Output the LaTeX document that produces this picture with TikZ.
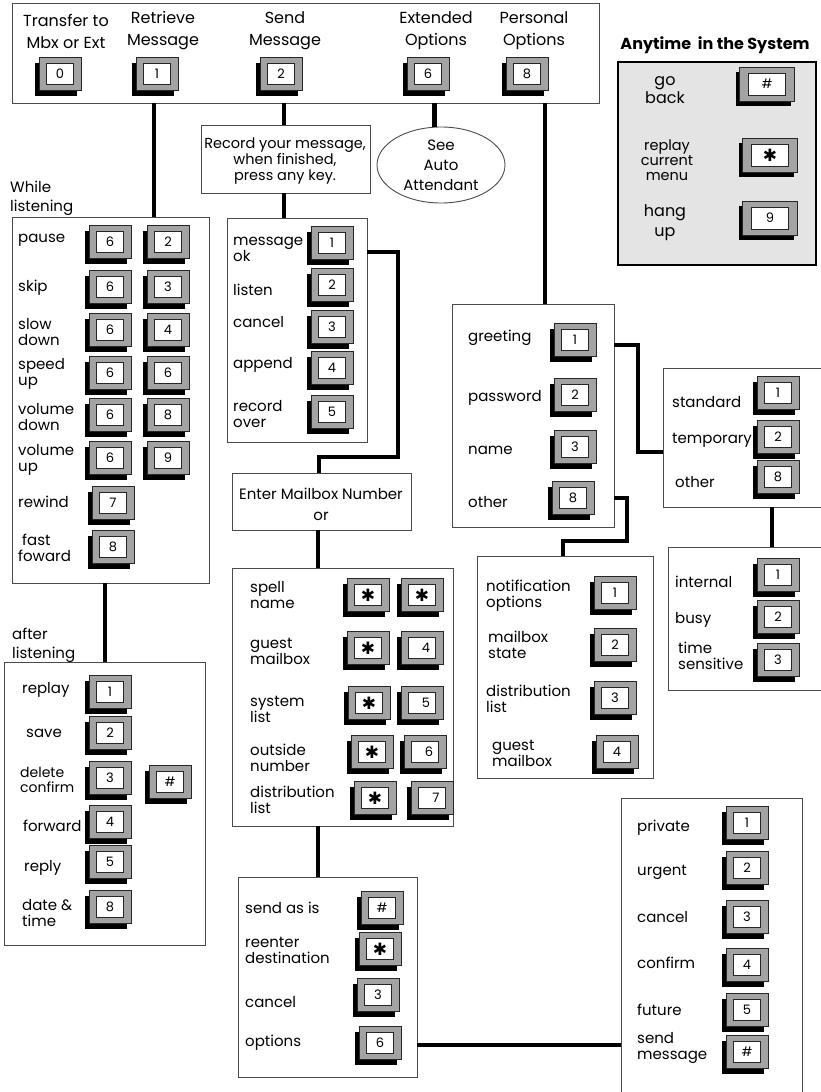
\documentclass[tikz,border=0pt]{standalone}
\usepackage{fontspec}
\setmainfont{Poppins}
\newfontfamily\djv{DejaVu Sans}
\usetikzlibrary{shadows,fit,shapes.geometric}
\definecolor{keygray}{HTML}{A3A3A3}
\definecolor{panel}{HTML}{E4E4E4}
\definecolor{edge}{HTML}{4A4A4A}
\newcommand\astk{{\djv\fontsize{17}{17}\selectfont ✱}}
\newcommand\kb[4]{\node[kbo] (#1) at (#2,#3) {}; \node[kbi] (#1t) at (#1) {#4};}
\newcommand\kbw[4]{\node[kbo,minimum width=55pt,minimum height=34pt] (#1) at (#2,#3) {}; \node[kbi,minimum width=37pt,minimum height=22pt] (#1t) at (#1) {#4};}
\begin{document}
\begin{tikzpicture}[x=1pt,y=-1pt,
  kbo/.style={draw=black!85, line width=0.7pt, fill=keygray, minimum width=42pt, minimum height=33pt, inner sep=0pt,
    general shadow={fill=black, shadow xshift=-4pt, shadow yshift=-5pt}},
  kbi/.style={draw=black!85, line width=0.7pt, fill=white, minimum width=27pt, minimum height=21pt, inner sep=0pt,
    font=\fontsize{13}{13}\selectfont},
  lbl/.style={anchor=west, align=left, inner sep=0pt, font=\fontsize{15}{16}\selectfont},
  toplbl/.style={align=center, inner sep=0pt, font=\fontsize{16}{22}\selectfont},
  box/.style={draw=edge, line width=0.9pt, inner sep=0pt},
  conn/.style={line width=4.5pt, black}]
\useasboundingbox (0,0) rectangle (820,1092);

% ---------- top menu ----------
\node[box, fit={(12,3) (599,103)}] (top) {};
\node[toplbl] (l0) at (66,31) {Transfer to\\Mbx or Ext};
\node[toplbl] (l1) at (163,31) {Retrieve\\Message};
\node[toplbl] (l2) at (285,31) {Send\\Message};
\node[toplbl] (l3) at (436,31) {Extended\\Options};
\node[toplbl] (l4) at (534,31) {Personal\\Options};
\kb{k0}{60}{74}{0}
\kb{k1}{157}{74}{1}
\kb{k2}{281}{74}{2}
\kb{k6}{428}{74}{6}
\kb{k8}{527}{74}{8}

% ---------- anytime ----------
\node[inner sep=0pt, font=\bfseries\fontsize{16}{16}\selectfont] (anyt) at (715,45) {Anytime\ \ in the System};
\node[fit={(618,62) (816,265)}, draw=black, line width=2.5pt, fill=panel, inner sep=0pt] (any) {};
\node[align=center, inner sep=0pt, font=\fontsize{16}{18}\selectfont] (gob) at (665,90) {go\\back};
\node[align=center, inner sep=0pt, font=\fontsize{14.5}{15}\selectfont] (rcm) at (667,160) {replay\\current\\menu};
\node[align=center, inner sep=0pt, font=\fontsize{16}{20}\selectfont] (hup) at (665,223) {hang\\up};
\kbw{ka1}{767}{84}{\#}
\kbw{ka2}{770}{155}{\astk}
\kbw{ka3}{770}{218}{9}

% ---------- while listening ----------
\node[lbl, font=\fontsize{15}{19}\selectfont] (wlt) at (10,198) {While\\listening};
\node[box, fit={(12,217) (209,583)}] (wl) {};
\node[lbl] (w1) at (18,240) {pause};
\node[lbl] (w2) at (18,288) {skip};
\node[lbl] (w3) at (18,332) {slow\\down};
\node[lbl] (w4) at (18,374) {speed\\up};
\node[lbl] (w5) at (18,417) {volume\\down};
\node[lbl] (w6) at (18,460) {volume\\up};
\node[lbl] (w7) at (18,502) {rewind};
\node[lbl] (w8) at (18,548) {\hspace*{4pt}fast\\foward};
\kb{wa1}{110}{242}{6} \kb{wb1}{168}{242}{2}
\kb{wa2}{110}{287}{6} \kb{wb2}{168}{287}{3}
\kb{wa3}{110}{330}{6} \kb{wb3}{168}{330}{4}
\kb{wa4}{110}{373}{6} \kb{wb4}{168}{373}{6}
\kb{wa5}{110}{415}{6} \kb{wb5}{168}{415}{8}
\kb{wa6}{110}{458}{6} \kb{wb6}{168}{458}{9}
\kb{wa7}{113}{503}{7}
\kb{wa8}{113}{547}{8}

% ---------- after listening ----------
\node[lbl, font=\fontsize{15}{19}\selectfont] (alt) at (12,645) {after\\listening};
\node[box, fit={(4,662) (205,945)}] (al) {};
\node[lbl] (a1) at (22,690) {replay};
\node[lbl] (a2) at (26,733) {save};
\node[lbl, font=\fontsize{14}{15}\selectfont] (a3) at (20,780) {delete\\confirm};
\node[lbl] (a4) at (23,826) {forward};
\node[lbl] (a5) at (24,868) {reply};
\node[lbl] (a6) at (22,913) {date \&\\time};
\kb{ak1}{110}{692}{1}
\kb{ak2}{110}{733}{2}
\kb{ak3}{110}{778}{3}
\kb{ak4}{110}{822}{4}
\kb{ak5}{110}{862}{5}
\kb{ak6}{110}{907}{8}
\kb{akh}{170}{782}{\#}

% ---------- record / send ----------
\node[box, fit={(201,125) (370,193)}] (rec) {};
\node[align=center, inner sep=0pt, font=\fontsize{14.5}{16}\selectfont] (rect) at (285,161) {Record your message,\\when finished,\\press any key.};
\node[ellipse, draw=edge, line width=0.9pt, minimum width=128pt, minimum height=76pt, inner sep=0pt,
      align=center, font=\fontsize{15}{20}\selectfont] (aa) at (441,165) {See\\Auto\\Attendant};

\node[box, fit={(227,218) (367,442)}] (msg) {};
\node[lbl] (m1) at (233,249) {message\\ok};
\node[lbl] (m2) at (233,290) {listen};
\node[lbl] (m3) at (233,322) {cancel};
\node[lbl] (m4) at (233,365) {append};
\node[lbl] (m5) at (233,414) {record\\over};
\kb{mk1}{332}{243}{1}
\kb{mk2}{332}{285}{2}
\kb{mk3}{332}{327}{3}
\kb{mk4}{332}{368}{4}
\kb{mk5}{332}{412}{5}

\node[box, fit={(232,473) (411,530)}] (ent) {};
\node[align=center, inner sep=0pt, font=\fontsize{15}{21}\selectfont] (entt) at (321,504) {Enter Mailbox Number\\or};

\node[box, fit={(232,568) (453,826)}] (dial) {};
\node[lbl] (d1) at (250,595) {spell\\name};
\node[lbl] (d2) at (250,651) {guest\\mailbox};
\node[lbl] (d3) at (250,709) {system\\list};
\node[lbl] (d4) at (250,758) {outside\\number};
\node[lbl] (d5) at (250,800) {distribution\\list};
\kb{da1}{368}{595}{\astk} \kb{db1}{422}{595}{\astk}
\kb{da2}{368}{648}{\astk} \kb{db2}{422}{648}{\hspace*{8pt}4}
\kb{da3}{369}{703}{\astk} \kb{db3}{422}{703}{\hspace*{8pt}5}
\kb{da4}{372}{752}{\astk} \kb{db4}{425}{752}{\hspace*{8pt}6}
\kb{da5}{375}{798}{\astk} \kb{db5}{432}{798}{\hspace*{8pt}7}

\node[box, fit={(238,877) (417,1077)}] (snd) {};
\node[lbl] (s1) at (245,908) {send as is};
\node[lbl] (s2) at (245,950) {reenter\\destination};
\node[lbl] (s3) at (245,1002) {cancel};
\node[lbl] (s4) at (245,1043) {options};
\kb{sk1}{382}{908}{\#}
\kb{sk2}{380}{949}{\astk}
\kb{sk3}{378}{995}{3}
\kb{sk4}{380}{1043}{6}

\node[box, fit={(621,798) (802,1100)}] (opt) {};
\node[lbl] (o1) at (637,828) {private};
\node[lbl] (o2) at (637,872) {urgent};
\node[lbl] (o3) at (637,917) {cancel};
\node[lbl] (o4) at (637,963) {confirm};
\node[lbl] (o5) at (637,1010) {future};
\node[lbl] (o6) at (637,1048) {send\\message};
\kb{ok1}{747}{823}{1}
\kb{ok2}{747}{868}{2}
\kb{ok3}{747}{917}{3}
\kb{ok4}{747}{965}{4}
\kb{ok5}{747}{1010}{5}
\kb{ok6}{747}{1052}{\#}

% ---------- personal options ----------
\node[box, fit={(452,304) (614,527)}] (per) {};
\node[lbl] (p1) at (468,338) {greeting};
\node[lbl] (p2) at (468,398) {password};
\node[lbl] (p3) at (468,450) {name};
\node[lbl] (p4) at (468,502) {other};
\kb{pk1}{575}{340}{1}
\kb{pk2}{575}{395}{2}
\kb{pk3}{575}{447}{3}
\kb{pk4}{573}{498}{8}

\node[box, fit={(663,368) (828,507)}] (std) {};
\node[lbl] (t1) at (672,402) {standard};
\node[lbl] (t2) at (672,440) {temporary};
\node[lbl] (t3) at (675,482) {other};
\kb{tk1}{778}{393}{1}
\kb{tk2}{778}{437}{2}
\kb{tk3}{778}{477}{8}

\node[box, fit={(668,547) (828,690)}] (int) {};
\node[lbl] (i1) at (675,582) {internal};
\node[lbl] (i2) at (675,620) {busy};
\node[lbl] (i3) at (678,656) {time\\sensitive};
\kb{ik1}{778}{575}{1}
\kb{ik2}{778}{617}{2}
\kb{ik3}{778}{660}{3}

\node[box, fit={(477,556) (653,778)}] (ntf) {};
\node[lbl] (n1) at (486,596) {notification\\options};
\node[lbl] (n2) at (488,645) {mailbox\\state};
\node[lbl] (n3) at (486,699) {distribution\\list};
\node[lbl] (n4) at (492,753) {guest\\mailbox};
\kb{nk1}{615}{593}{1}
\kb{nk2}{615}{645}{2}
\kb{nk3}{615}{698}{3}
\kb{nk4}{617}{752}{4}

% ---------- connectors ----------
\coordinate (x154) at (154,0);
\coordinate (x284) at (284,0);
\coordinate (x545) at (545,0);
\coordinate (x105) at (105,0);
\coordinate (x318) at (318,0);
\coordinate (x772) at (772,0);
\coordinate (j1) at (398,252);
\coordinate (j2) at (319,457);
\coordinate (j3) at (0,1045);
\coordinate (j4) at (638,345);
\coordinate (j5) at (638,452);
\coordinate (j6) at (627,498);
\coordinate (j7) at (563,541);

\draw[conn] (x154 |- top.south) -- (x154 |- wl.north);
\draw[conn] (x284 |- top.south) -- (x284 |- rec.north);
\draw[conn] (aa.100 |- top.south) -- (aa.100);
\draw[conn] (x545 |- top.south) -- (x545 |- per.north);
\draw[conn] (x284 |- rec.south) -- (x284 |- msg.north);
\draw[conn] (x105 |- wl.south) -- (x105 |- al.north);
\draw[conn] (msg.east |- j1) -- (j1) -- (j1 |- j2) -- (j2) -- (j2 |- ent.north);
\draw[conn] (x318 |- ent.south) -- (x318 |- dial.north);
\draw[conn] (x318 |- dial.south) -- (x318 |- snd.north);
\draw[conn] (snd.east |- j3) -- (opt.west |- j3);
\draw[conn] (per.east |- j4) -- (j4) -- (j5) -- (std.west |- j5);
\draw[conn] (per.east |- j6) -- (j6) -- (j6 |- j7) -- (j7) -- (j7 |- ntf.north);
\draw[conn] (x772 |- std.south) -- (x772 |- int.north);
\end{tikzpicture}
\end{document}
